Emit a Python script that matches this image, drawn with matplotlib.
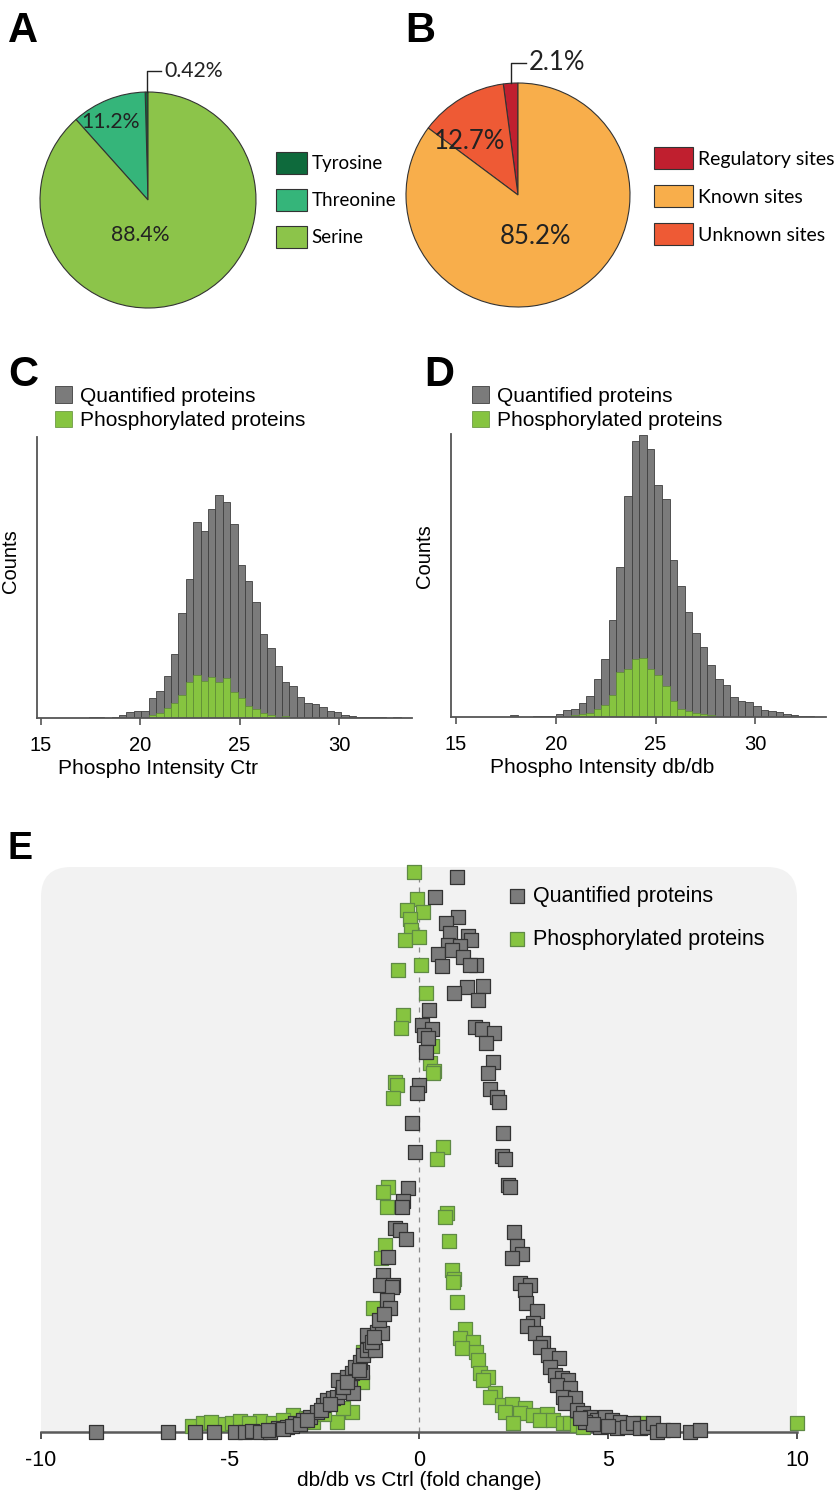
import numpy as np
import matplotlib
matplotlib.use('Agg')
import matplotlib.pyplot as plt
from matplotlib.patches import FancyBboxPatch
from matplotlib.transforms import IdentityTransform

plt.rcParams['axes.unicode_minus'] = False

W, H = 836, 1490

# ---- panel A: phospho residues
residues = ['Tyrosine', 'Threonine', 'Serine']
residue_pct = [0.42, 11.2, 88.4]
residue_colors = ['#0e6a3c', '#35b57a', '#8cc44a']

# ---- panel B: site annotation
sites = ['Regulatory sites', 'Unknown sites', 'Known sites']
site_pct = [2.1, 12.7, 85.2]
site_colors = ['#c01f2f', '#ee5a35', '#f8ae4b']
site_legend_order = [0, 2, 1]

# ---- panel C: intensity histogram, control
ctr_bin_start = 17.44
ctr_bin_width = 0.373
ctr_quant = [1, 1, 0.3, 1.3, 3.3, 5.7, 7.3, 7.3, 19.7, 27.3, 42.3, 64, 105, 139,
             195.7, 187.3, 209, 223.3, 216.3, 194, 153, 137.3, 116.3, 84, 69.7,
             51.7, 36.3, 32.3, 20.7, 14.7, 14, 11.3, 6.7, 6.3, 3, 2.3, 1.3, 1.3,
             1, 0.7, 0.5, 1]
ctr_phos = [0, 0, 0, 0, 0, 0, 0, 0, 3, 5, 10, 15, 23, 35.7, 43.3, 37.3, 40.7,
            35.7, 39.7, 25.7, 20, 12.3, 9, 5, 3.3, 0.7, 2.3, 0, 0, 0, 0, 0, 0,
            0, 0, 0, 0, 0, 0, 0, 0, 0]

# ---- panel D: intensity histogram, db/db
db_bin_start = 17.72
db_bin_width = 0.38
db_quant = [1.7, 0.3, 0.3, 1, 1, 1, 3.3, 6.7, 8.3, 14, 21, 38.3, 58.3, 97.3, 150,
            221, 275.7, 282.3, 267.7, 232.3, 217.7, 156.7, 131, 105, 84, 70,
            51.7, 37.7, 31.7, 20, 16, 15, 10.7, 6.7, 6, 5, 2.7, 1.7, 1, 1]
db_phos = [0, 0, 0, 0, 0, 0, 0, 0, 1.7, 3.3, 4, 7.7, 11.7, 22.3, 45, 47.7, 57.7,
           59, 47.7, 42.3, 30.7, 15.7, 7.7, 5.7, 4.3, 3.3, 1.7, 0, 0, 0, 0, 0,
           0, 0, 0, 0, 0, 0, 0, 0]

# ---- panel E: fold change vs density rank
quant_fc = [1.01, 0.42, 1.03, 0.71, 0.82, 1.30, 1.38, 0.77, 1.08, 0.50, 0.87, 1.16,
            0.61, 1.51, 1.35, 1.69, 1.27, 0.93, 1.56, 0.26, 0.08, 0.34, 0.13, 0.24,
            1.48, 1.67, 1.98, 1.77, 0.19, 1.96, 1.83,
            0.00, -0.05, 1.88, 2.06, 2.12, -0.19, 2.22, -0.11, 2.20, 2.28, 2.35, 2.41,
            -0.29, -0.42, -0.45, -0.63, -0.50, -0.34, 2.51, 2.59, 2.72, 2.46, -0.82,
            -0.95, -1.03, -0.69, 2.67, 2.94,
            -8.54, -6.64, -5.93, -5.42, -4.87, -4.60, -4.42, -4.21, -3.94, -3.73,
            -3.49, -3.28, -3.07, -2.88, -2.70, -2.54, -2.43, -2.28, -2.17, -2.04,
            -1.83, -1.75, -2.14, -1.90, -1.77, -1.51, -1.69, -1.56, -1.48, -1.38,
            -1.30, -1.16, -1.38, -1.11, -0.98, -1.24, -0.71, -0.85, -0.77,
            -4.00, -3.60, -3.35, -3.15, -2.95, -2.60, -2.35, -2.00, -1.90, -1.60,
            -1.20, -1.05, -0.92,
            2.80, 2.83, 3.12, 3.02, 2.86, 3.07, 3.28, 3.20, 3.41, 3.70, 3.47, 3.60,
            3.78, 3.94, 3.65, 3.99, 3.81, 4.13, 3.86, 4.18, 4.34, 4.52, 4.71, 4.92,
            4.79, 5.11, 5.32, 5.24, 5.50, 5.66, 5.85, 6.03, 6.19, 6.30, 6.46, 6.72,
            7.17, 7.43, 4.40, 4.60, 5.00, 4.25]
quant_y = [555, 535, 515, 509, 499, 496, 492, 487, 486, 478, 482, 475,
           466, 467, 467, 446, 445, 439, 432, 422, 407, 403, 397, 394,
           405, 403, 399, 389, 380, 370, 359,
           347, 339, 343, 335, 330, 309, 299, 280, 276, 273, 247, 245,
           244, 231, 225, 204, 202, 193, 200, 186, 178, 174, 175,
           157, 147, 147, 149, 147,
           0, 0, 0, 0, 0, 0, 1, 0, 0, 4,
           5, 9, 12, 15, 20, 27, 32, 34, 35, 40,
           45, 39, 52, 55, 59, 60, 65, 70, 77, 82,
           87, 82, 97, 100, 99, 90, 145, 132, 124,
           2, 3, 6, 8, 12, 22, 28, 45, 50, 62,
           95, 112, 118,
           142, 129, 121, 109, 106, 99, 89, 85, 77, 74, 65, 57,
           54, 52, 47, 44, 35, 34, 29, 22, 19, 15, 12, 15,
           5, 12, 10, 4, 5, 9, 4, 5, 9, 0, 2, 2,
           0, 2, 10, 8, 6, 14]

phos_fc = [-0.13, -0.05, -0.32, 0.11, -0.24, -0.21, -0.37, 0.00, -0.56, 0.05, 0.19,
           -0.42, -0.48, 0.34, 0.29, 0.40, 0.37, -0.63, -0.58, -0.69, 0.63, 0.48,
           -0.82, -0.95, -0.85, 0.74, 0.69, 0.79, -0.90, -1.01, 0.87, 0.93,
           -6.01, -5.71, -5.26, -4.95, -4.74, -4.21, -3.86, -3.33, -2.80, -2.17,
           -1.77, -2.01, -1.51, -1.22, -1.48, -5.50, -4.50, -3.60, -3.00, -2.50,
           0.90, 1.01, 1.22, 1.08, 1.43, 1.14, 1.51, 1.56, 1.61, 1.83, 1.69, 2.01,
           1.88, 2.20, 2.46, 2.28, 2.80, 2.67, 2.49, 3.02, 3.39, 3.20, 3.54, 3.81,
           3.99, 4.18, 4.34, 5.85, 10.0]
phos_y = [560, 533, 522, 520, 513, 502, 492, 495, 462, 467, 439,
          417, 404, 386, 369, 361, 359, 350, 347, 334, 285, 273,
          245, 240, 225, 219, 215, 191, 187, 174, 162, 153,
          6, 9, 8, 9, 11, 11, 9, 17, 10, 10,
          20, 24, 50, 124, 80, 10, 9, 12, 14, 18,
          150, 130, 103, 94, 90, 84, 80, 72, 59, 55, 52, 39,
          35, 27, 28, 20, 24, 19, 9, 17, 18, 12, 12, 9,
          9, 7, 5, 9, 9]

GRAY = '#7b7b7b'
GREEN = '#86c440'
PIE_FONT = ['Lato', 'DejaVu Sans']
ARIAL = ['Liberation Sans', 'DejaVu Sans']


def box(l, t, r, b):
    return [l / W, 1 - b / H, (r - l) / W, (b - t) / H]


fig = plt.figure(figsize=(W / 100, H / 100), dpi=100)

# panel letters
for lab, x, y in [('A', 8, 42), ('B', 405, 42), ('C', 8, 386), ('D', 424, 386), ('E', 7, 859)]:
    fig.text(x / W, 1 - y / H, lab, fontsize=30 if lab != 'E' else 27, fontweight='bold',
             family=ARIAL, va='baseline', ha='left')


def draw_pie(rect, pct, colors, labels, order, pos_labels, small_y, small_x_txt,
             fsize, leg_anchor, hlen, hheight, lspace, leg_fs):
    ax = fig.add_axes(rect)
    wedges, _ = ax.pie(pct, colors=colors, startangle=90, counterclock=True,
                       wedgeprops=dict(edgecolor='#333333', linewidth=0.8))
    for w in wedges:
        w.set_clip_on(False)
    ax.set_xlim(-1, 1)
    ax.set_ylim(-1, 1)
    ax.set_aspect('equal')
    ax.axis('off')
    # leader for the tiny slice
    th = np.deg2rad(90 + pct[0] / 100 * 180)
    x0 = np.cos(th)
    ax.plot([x0, x0, small_x_txt - 0.03], [np.sin(th), small_y, small_y],
            color='#222222', lw=1.0, clip_on=False)
    ax.text(small_x_txt, small_y, f'{pct[0]}%', fontsize=fsize, family=PIE_FONT,
            va='center', ha='left', color='#222222')
    for i, (tx, ty) in pos_labels.items():
        ax.text(tx, ty, f'{pct[i]}%', fontsize=fsize, family=PIE_FONT,
                ha='center', va='center', color='#222222')
    ax.legend([wedges[i] for i in order], [labels[i] for i in order],
              loc='upper left', bbox_to_anchor=(leg_anchor[0] / W, 1 - leg_anchor[1] / H),
              bbox_transform=fig.transFigure, frameon=False, borderpad=0,
              borderaxespad=0, handlelength=hlen, handleheight=hheight,
              labelspacing=lspace, handletextpad=0.25,
              prop=dict(family=PIE_FONT, size=leg_fs))
    return ax


draw_pie(box(40, 92, 256, 308), residue_pct, residue_colors, residues, [0, 1, 2],
         {1: (-0.35, 0.72), 2: (-0.07, -0.32)}, 1.19, 0.15, 15.3,
         (276, 152), 1.65, 1.4, 0.82, 13.5)
draw_pie(box(406, 83, 630, 307), site_pct, site_colors, sites, site_legend_order,
         {1: (-0.43, 0.48), 2: (0.16, -0.375)}, 1.18, 0.1, 18.5,
         (654, 147), 2.0, 1.4, 0.8, 14)


def draw_hist(rect, start, width, quant, phos, xlim, ylim, xlabel, leg_anchor,
              xlab_x, ylab_y):
    ax = fig.add_axes(rect)
    edges = start + width * np.arange(len(quant) + 1)
    bq = ax.bar(edges[:-1], quant, width=width, align='edge', color=GRAY,
                edgecolor='#3f3f3f', linewidth=0.6)
    bp = ax.bar(edges[:-1], phos, width=width, align='edge', color=GREEN,
                edgecolor='#5e8c36', linewidth=0.5)
    ax.set_xlim(*xlim)
    ax.set_ylim(*ylim)
    for s in ['top', 'right']:
        ax.spines[s].set_visible(False)
    for s in ['left', 'bottom']:
        ax.spines[s].set_color('#555555')
        ax.spines[s].set_linewidth(1.3)
    ax.set_yticks([])
    ax.set_xticks([15, 20, 25, 30])
    ax.tick_params(axis='x', direction='out', length=5, width=1.2, color='#555555',
                   labelsize=14.5, pad=8)
    for t in ax.get_xticklabels():
        t.set_family(ARIAL)
    ax.set_xlabel(xlabel, fontsize=15, family=ARIAL)
    ax.xaxis.set_label_coords(xlab_x, -0.145)
    ax.set_ylabel('Counts', fontsize=14.5, family=ARIAL)
    ax.yaxis.set_label_coords(-0.045, ylab_y)
    ax.legend([bq, bp], ['Quantified proteins', 'Phosphorylated proteins'],
              loc='upper left', bbox_to_anchor=(leg_anchor[0] / W, 1 - leg_anchor[1] / H),
              bbox_transform=fig.transFigure, frameon=False, borderpad=0,
              borderaxespad=0, handlelength=0.8, handleheight=0.85,
              labelspacing=0.25, handletextpad=0.4,
              prop=dict(family=ARIAL, size=15))
    return ax


draw_hist(box(37, 437, 412, 718), ctr_bin_start, ctr_bin_width, ctr_quant, ctr_phos,
          (14.8, 33.68), (0, 281), 'Phospho Intensity Ctr', (55, 386), 0.323, 0.56)
draw_hist(box(451, 434, 826, 717), db_bin_start, db_bin_width, db_quant, db_phos,
          (14.75, 33.54), (0, 283), 'Phospho Intensity db/db', (472, 386), 0.403, 0.57)

# ---- panel E
ax = fig.add_axes(box(41, 867, 797, 1432))
ax.set_facecolor('none')
bg = FancyBboxPatch((41, 20), 756, H - 867 - 20, boxstyle='round,pad=0,rounding_size=30',
                    transform=IdentityTransform(), facecolor='#f2f2f2',
                    edgecolor='none', zorder=0)
ax.add_artist(bg)
ax.axvline(0, color='#8a8a8a', lw=0.9, ls=(0, (4, 4)), zorder=1)
sp = ax.scatter(phos_fc, phos_y, marker='s', s=115, color=GREEN, edgecolors='#5f8a45',
                linewidths=0.9, zorder=3, clip_on=False)
sq = ax.scatter(quant_fc, quant_y, marker='s', s=115, color=GRAY, edgecolors='#333333',
                linewidths=0.9, zorder=4, clip_on=False)
ax.set_xlim(-10, 10)
ax.set_ylim(0, 565)
for s in ['top', 'right', 'left']:
    ax.spines[s].set_visible(False)
ax.spines['bottom'].set_color('#5a5a5a')
ax.spines['bottom'].set_linewidth(1.8)
ax.spines['bottom'].set_zorder(2)
ax.set_yticks([])
ax.set_xticks([-10, -5, 0, 5, 10])
ax.tick_params(axis='x', direction='out', length=5, width=1.2, color='#333333',
               labelsize=15.5, pad=8)
for t in ax.get_xticklabels():
    t.set_family(ARIAL)
ax.set_xlabel('db/db vs Ctrl (fold change)', fontsize=15, family=ARIAL, labelpad=0)
ax.legend([sq, sp], ['Quantified proteins', 'Phosphorylated proteins'],
          loc='upper left', bbox_to_anchor=(506 / W, 1 - 886 / H),
          bbox_transform=fig.transFigure, frameon=False, borderpad=0,
          borderaxespad=0, scatterpoints=1, handlelength=1.0, handletextpad=0.25,
          labelspacing=1.0, prop=dict(family=ARIAL, size=15.5))

fig.savefig('out.png', dpi=100)
